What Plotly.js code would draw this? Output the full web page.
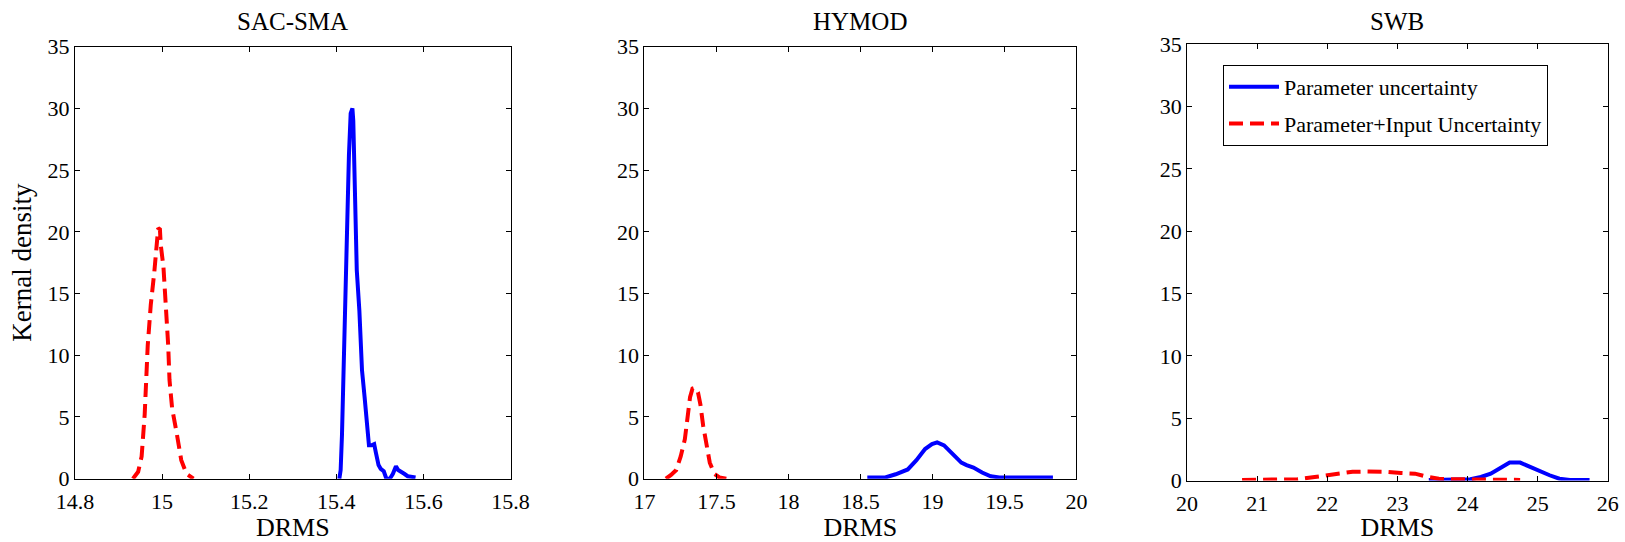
<!DOCTYPE html>
<html>
<head>
<meta charset="utf-8">
<script src="https://cdn.plot.ly/plotly-3.0.1.min.js"></script>
<style>html,body{margin:0;padding:0;background:#fff;}#chart{width:1625px;height:542px;}</style>
</head>
<body>
<div id="chart"></div>
<script>
// ---- Data ----
const panelTitles = ["SAC-SMA", "HYMOD", "SWB"];
const seriesNames = ["Parameter uncertainty", "Parameter+Input Uncertainty"];

// SAC-SMA
const sacParamX = [15.407,15.410,15.413,15.417,15.421,15.425,15.429,15.433,15.437,15.439,15.441,15.445,15.447,15.453,15.457,15.459,15.465,15.471,15.475,15.481,15.487,15.491,15.497,15.502,15.509,15.515,15.523,15.530,15.537,15.542,15.548,15.556,15.564,15.572,15.582];
const sacParamY = [0,0.7,3.5,9.4,16.4,22,26.2,29.6,30,29,24.8,20.6,16.9,13.6,10.8,8.8,6.6,4.3,2.7,2.7,2.8,2.1,1.1,0.8,0.6,0,0,0.4,1.0,0.7,0.6,0.4,0.2,0.15,0.1];
const sacInputX = [14.933,14.945,14.953,14.960,14.967,14.974,14.982,14.987,14.991,14.995,14.997,15.003,15.009,15.014,15.017,15.023,15.033,15.044,15.056,15.072];
const sacInputY = [0,0.56,1.8,5.2,10.8,14.1,16.7,19.2,20.3,20.2,18.9,17.2,14.1,10.8,8.0,5.7,3.8,1.5,0.4,0];

// HYMOD
const hyParamX = [18.548,18.673,18.745,18.829,18.889,18.949,18.997,19.033,19.081,19.141,19.201,19.237,19.285,19.345,19.405,19.465,19.585,19.837];
const hyParamY = [0.1,0.1,0.36,0.75,1.5,2.4,2.8,2.94,2.7,2.0,1.3,1.1,0.9,0.5,0.2,0.1,0.1,0.1];
const hyInputX = [17.149,17.185,17.221,17.252,17.281,17.300,17.317,17.334,17.353,17.372,17.389,17.408,17.430,17.454,17.485,17.521,17.569];
const hyInputY = [0,0.3,0.7,1.8,3.2,5.2,6.6,7.3,7.37,7.0,6.0,4.3,2.7,1.3,0.4,0.1,0];

// SWB
const swbParamX = [23.447,23.79,24.04,24.19,24.33,24.48,24.60,24.75,24.88,25.02,25.17,25.31,25.46,25.74];
const swbParamY = [0.05,0.05,0.1,0.28,0.55,1.05,1.44,1.44,1.1,0.78,0.42,0.14,0.05,0.05];
const swbInputX = [20.784,21.18,21.57,21.82,21.97,22.16,22.36,22.56,22.81,23.05,23.25,23.40,23.59,23.79,24.04,24.28,24.75];
const swbInputY = [0.05,0.05,0.1,0.28,0.4,0.55,0.7,0.72,0.7,0.6,0.55,0.33,0.14,0.1,0.08,0.05,0.05];

const xRanges = [[14.8,15.8],[17,20],[20,26]];
const xDticks = [0.2,0.5,1];
const yRange = [0,35];
const yDtick = 5;
const xTitle = "DRMS";
const yTitle = "Kernal density";

// ---- Build traces ----
const FONT = "Liberation Serif, Times New Roman, serif";
const blueLine = {color:"#0000ff", width:4};
const redLine = {color:"#ff0000", width:4, dash:"14px,7px"};

const paramX = [sacParamX, hyParamX, swbParamX];
const paramY = [sacParamY, hyParamY, swbParamY];
const inputX = [sacInputX, hyInputX, swbInputX];
const inputY = [sacInputY, hyInputY, swbInputY];

const traces = [];
for (let i = 0; i < 3; i++) {
  const ax = i === 0 ? "" : String(i+1);
  traces.push({x:paramX[i], y:paramY[i], type:"scatter", mode:"lines", line:blueLine,
    name:seriesNames[0], showlegend:i===2, legendgroup:"p", xaxis:"x"+ax, yaxis:"y"+ax});
  traces.push({x:inputX[i], y:inputY[i], type:"scatter", mode:"lines", line:redLine,
    name:seriesNames[1], showlegend:i===2, legendgroup:"pi", xaxis:"x"+ax, yaxis:"y"+ax});
}

// ---- Layout ----
const W = 1625, H = 542;
const boxes = [
  {l:75.0, r:510.5, t:46.7, b:478.7},
  {l:644.4, r:1076.4, t:46.7, b:478.7},
  {l:1187.1, r:1607.8, t:44.2, b:480.5}
];

const layout = {
  width:W, height:H,
  margin:{l:0,r:0,t:0,b:0},
  paper_bgcolor:"#fff", plot_bgcolor:"#fff",
  font:{family:FONT, size:22, color:"#000"},
  showlegend:true,
  legend:{x:1223/W, y:1-65/H, xanchor:"left", yanchor:"top",
    bordercolor:"#000", borderwidth:1, bgcolor:"#fff",
    font:{family:FONT, size:22, color:"#000"},
    traceorder:"grouped", tracegroupgap:5, itemwidth:50},
  annotations:[]
};

for (let i = 0; i < 3; i++) {
  const b = boxes[i];
  const ax = i === 0 ? "" : String(i+1);
  layout["xaxis"+ax] = {
    domain:[b.l/W, b.r/W], range:xRanges[i], dtick:xDticks[i], tick0:xRanges[i][0],
    anchor:"y"+ax, showgrid:false, zeroline:false, showline:true, linecolor:"#000", linewidth:1,
    mirror:"ticks", ticks:"inside", ticklen:5, tickcolor:"#000", tickwidth:1,
    ticklabelstandoff:3,
    tickfont:{family:FONT, size:22, color:"#000"}, automargin:false,
    title:{text:xTitle, font:{family:FONT, size:26, color:"#000"}, standoff:0}
  };
  layout["yaxis"+ax] = {
    domain:[1-b.b/H, 1-b.t/H], range:yRange, dtick:yDtick, tick0:0,
    anchor:"x"+ax, showgrid:false, zeroline:false, showline:true, linecolor:"#000", linewidth:1,
    mirror:"ticks", ticks:"inside", ticklen:5, tickcolor:"#000", tickwidth:1,
    tickfont:{family:FONT, size:22, color:"#000"}, automargin:false,
    title: i===0 ? {text:yTitle, font:{family:FONT, size:27, color:"#000"}, standoff:8} : {text:""}
  };
  layout.annotations.push({
    text:panelTitles[i], xref:"paper", yref:"paper",
    x:((b.l+b.r)/2)/W, y:1-21/H, xanchor:"center", yanchor:"middle",
    showarrow:false, font:{family:FONT, size:25, color:"#000"}
  });
}

Plotly.newPlot("chart", traces, layout, {staticPlot:true, displayModeBar:false});
</script>
</body>
</html>
